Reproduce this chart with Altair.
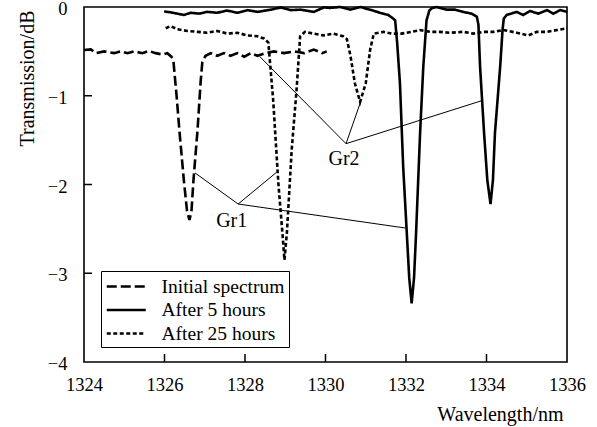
import altair as alt
import pandas as pd

# ---------------- data ----------------
series_names = ["Initial spectrum", "After 5 hours", "After 25 hours"]

init_x = [1324.00, 1324.17, 1324.29, 1324.50, 1324.75, 1324.91, 1325.08, 1325.24, 1325.45,
          1325.61, 1325.78, 1325.95, 1326.07, 1326.17, 1326.22, 1326.30, 1326.37, 1326.48,
          1326.56, 1326.62, 1326.67, 1326.72, 1326.82, 1326.90, 1326.94, 1327.02, 1327.15,
          1327.31, 1327.48, 1327.64, 1327.81, 1327.98, 1328.14, 1328.31, 1328.51, 1328.72,
          1328.97, 1329.22, 1329.47, 1329.71, 1329.92, 1330.03]
init_y = [-0.485, -0.477, -0.52, -0.50, -0.52, -0.50, -0.52, -0.50, -0.52,
          -0.495, -0.52, -0.535, -0.52, -0.56, -0.60, -1.00, -1.39, -1.95,
          -2.30, -2.40, -2.30, -1.95, -1.39, -0.83, -0.62, -0.55, -0.52,
          -0.55, -0.52, -0.55, -0.52, -0.56, -0.52, -0.55, -0.52, -0.50,
          -0.52, -0.50, -0.52, -0.48, -0.52, -0.50]

h5_x = [1325.99, 1326.15, 1326.32, 1326.48, 1326.65, 1326.86, 1327.06, 1327.31, 1327.56,
        1327.81, 1328.06, 1328.31, 1328.64, 1328.89, 1329.14, 1329.38, 1329.71, 1329.96,
        1330.11, 1330.36, 1330.61, 1330.86, 1331.11, 1331.35, 1331.56, 1331.68,
        1331.73, 1331.78, 1331.85, 1331.93, 1332.02, 1332.08, 1332.14, 1332.20, 1332.25,
        1332.35, 1332.43, 1332.51, 1332.58, 1332.64, 1332.76, 1333.01, 1333.22, 1333.42,
        1333.63, 1333.76, 1333.80, 1333.84, 1333.94, 1334.02, 1334.10, 1334.16, 1334.21,
        1334.34, 1334.40, 1334.43, 1334.50, 1334.75, 1334.91, 1335.08, 1335.29, 1335.50,
        1335.66, 1335.83, 1336.00]
h5_y = [-0.05, -0.06, -0.075, -0.09, -0.065, -0.075, -0.055, -0.065, -0.04,
        -0.065, -0.035, -0.055, -0.03, -0.005, -0.035, -0.03, -0.055, -0.005,
        -0.01, 0.0, -0.03, 0.0, -0.03, -0.065, -0.09, -0.13,
        -0.15, -0.40, -0.86, -1.80, -2.55, -3.05, -3.34, -3.05, -2.55,
        -1.42, -0.67, -0.15, -0.04, -0.015, 0.0, -0.03, -0.03, -0.055,
        -0.075, -0.11, -0.20, -0.67, -1.42, -1.95, -2.22, -1.95, -1.42,
        -0.67, -0.25, -0.13, -0.09, -0.055, -0.09, -0.045, -0.075, -0.035,
        -0.075, -0.035, -0.055]

h25_x = [1326.03, 1326.15, 1326.32, 1326.57, 1326.82, 1327.06, 1327.31, 1327.56, 1327.81,
         1328.06, 1328.31, 1328.47, 1328.58, 1328.70, 1328.83, 1328.93, 1328.98, 1329.04,
         1329.16, 1329.28, 1329.37, 1329.49, 1329.70, 1329.95, 1330.19, 1330.44, 1330.53,
         1330.62, 1330.73, 1330.86, 1331.00, 1331.11, 1331.20, 1331.44, 1331.64, 1331.89,
         1332.14, 1332.35, 1332.60, 1332.84, 1333.09, 1333.42, 1333.67, 1333.92, 1334.17,
         1334.42, 1334.75, 1335.04, 1335.25, 1335.50, 1335.75, 1336.00]
h25_y = [-0.24, -0.215, -0.25, -0.27, -0.28, -0.29, -0.27, -0.30, -0.29,
         -0.32, -0.33, -0.355, -0.40, -1.05, -1.99, -2.55, -2.85, -2.55,
         -1.61, -0.94, -0.33, -0.28, -0.30, -0.32, -0.30, -0.33, -0.36,
         -0.55, -0.86, -1.07, -0.86, -0.48, -0.30, -0.28, -0.30, -0.30,
         -0.28, -0.26, -0.28, -0.28, -0.29, -0.28, -0.30, -0.28, -0.28,
         -0.26, -0.29, -0.32, -0.28, -0.28, -0.26, -0.24]

# annotation leader lines (from label vertex to the curves)
ann_x = [1327.83, 1327.83, 1327.83, 1330.51, 1330.51, 1330.51]
ann_y = [-2.22, -2.22, -2.22, -1.54, -1.54, -1.54]
ann_x2 = [1326.76, 1328.79, 1331.98, 1328.37, 1330.86, 1333.88]
ann_y2 = [-1.87, -1.86, -2.49, -0.56, -1.085, -1.056]

label_text = ["Gr1", "Gr2"]
label_x = [1327.67, 1330.46]
label_y = [-2.479, -1.78]

x_tick_labels = [1324, 1326, 1328, 1330, 1332, 1334, 1336]
y_tick_labels = [0, -1, -2, -3, -4]
x_inner_ticks = [1326, 1328, 1330, 1332, 1334]
y_inner_ticks = [-1, -2, -3]

# ---------------- build tables ----------------
rows = []
for name, xs, ys in zip(series_names, [init_x, h5_x, h25_x], [init_y, h5_y, h25_y]):
    for i, (a, b) in enumerate(zip(xs, ys)):
        rows.append({"series": name, "x": a, "y": b, "i": i})
df = pd.DataFrame(rows)

ann_df = pd.DataFrame({"x": ann_x, "y": ann_y, "x2": ann_x2, "y2": ann_y2})
lab_df = pd.DataFrame({"x": label_x, "y": label_y, "label": label_text})
xt_df = pd.DataFrame({"x": x_inner_ticks})
yt_df = pd.DataFrame({"y": y_inner_ticks})

FONT = "Liberation Serif"
W, H = 483, 355

xscale = alt.Scale(domain=[1324, 1336], nice=False, zero=False)
yscale = alt.Scale(domain=[-4, 0], nice=False, zero=False)

xaxis = alt.Axis(values=x_tick_labels, format="d", title="Wavelength/nm", ticks=False,
                 domain=False, grid=False, labelPadding=13, labelFlush=False,
                 labelOverlap=False, titleX=479, titleY=58, titleAlign="right",
                 titleBaseline="alphabetic")
yaxis = alt.Axis(values=y_tick_labels, format="d", title="Transmission/dB", ticks=False,
                 domain=False, grid=False, labelPadding=17, labelFlush=False,
                 labelOffset=1.5,
                 labelOverlap=False, titleAngle=270, titleX=-57, titleY=3,
                 titleAlign="right", titleBaseline="middle")

lines = alt.Chart(df).mark_line(color="black", strokeWidth=2.6).encode(
    x=alt.X("x:Q", scale=xscale, axis=xaxis),
    y=alt.Y("y:Q", scale=yscale, axis=yaxis),
    order="i:Q",
    strokeDash=alt.StrokeDash(
        "series:N",
        scale=alt.Scale(domain=series_names, range=[[10, 4], [1, 0], [4, 2.5]]),
        legend=alt.Legend(title=None, orient="none", legendX=17, legendY=264,
                          symbolType="M-1,0H3", symbolSize=380, symbolStrokeWidth=2.6,
                          symbolStrokeColor="black", labelOffset=33.5, padding=4,
                          rowPadding=2.5, fillColor="white", strokeColor="black",
                          labelFont=FONT, labelFontSize=19.5, labelColor="black"),
    ),
)

ann = alt.Chart(ann_df).mark_rule(color="black", strokeWidth=1).encode(
    x="x:Q", y="y:Q", x2="x2:Q", y2="y2:Q")

labels = alt.Chart(lab_df).mark_text(font=FONT, fontSize=20, color="black",
                                     align="center", baseline="alphabetic").encode(
    x="x:Q", y="y:Q", text="label:N")

xticks = alt.Chart(xt_df).mark_rule(color="black", strokeWidth=1.5).encode(
    x="x:Q", y=alt.value(H), y2=alt.value(H - 8))
yticks = alt.Chart(yt_df).mark_rule(color="black", strokeWidth=1.5).encode(
    y="y:Q", x=alt.value(0), x2=alt.value(8))

chart = alt.layer(lines, ann, labels, xticks, yticks).properties(
    width=W, height=H,
    autosize=alt.AutoSizeParams(type="none"),
    padding={"left": 84, "top": 7, "right": 30, "bottom": 65},
).configure_view(stroke="black", strokeWidth=1.6).configure_axis(
    labelFont=FONT, labelFontSize=18.5, labelColor="black",
    titleFont=FONT, titleFontSize=20, titleColor="black", titleFontWeight="normal",
)

chart.save("out.html", embed_options={"renderer": "svg", "actions": False})
